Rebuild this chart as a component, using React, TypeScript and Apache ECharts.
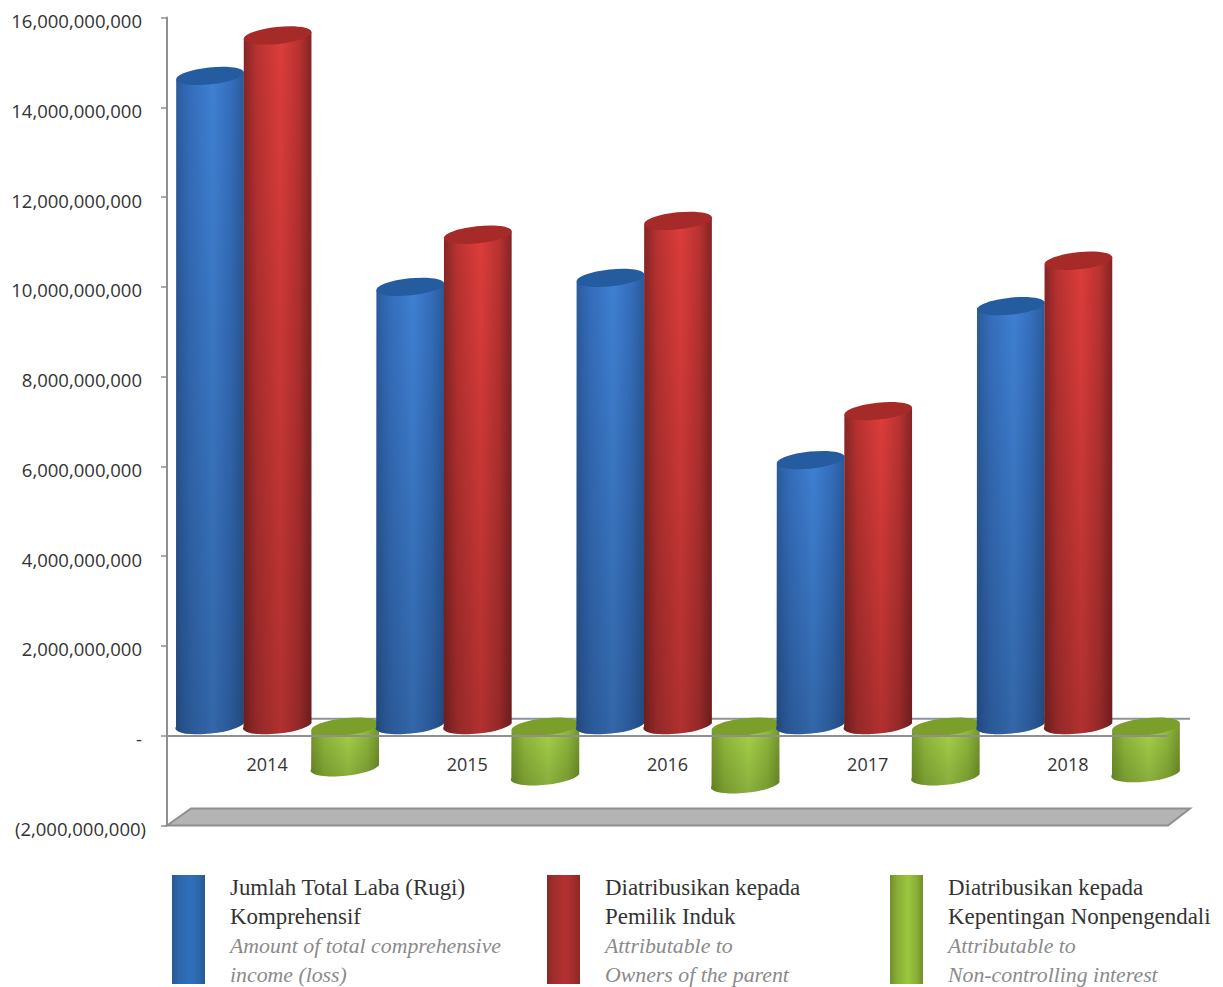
import React, { useEffect, useRef } from "react";
import * as echarts from "echarts";

const years = ["2014", "2015", "2016", "2017", "2018"];
const totalIncome = [14.5e9, 9.8e9, 10.0e9, 5.94e9, 9.37e9];
const ownersShare = [15.4e9, 10.96e9, 11.27e9, 7.03e9, 10.38e9];
const nonControlling = [-0.94e9, -1.14e9, -1.32e9, -1.14e9, -1.07e9];

const nameTotal = "Jumlah Total Laba (Rugi) Komprehensif";
const nameOwners = "Diatribusikan kepada Pemilik Induk";
const nameNci = "Diatribusikan kepada Kepentingan Nonpengendali";

const legendTotal = ["Jumlah Total Laba (Rugi)", "Komprehensif", "Amount of total comprehensive", "income (loss)"];
const legendOwners = ["Diatribusikan kepada", "Pemilik Induk", "Attributable to", "Owners of the parent"];
const legendNci = ["Diatribusikan kepada", "Kepentingan Nonpengendali", "Attributable to", "Non-controlling interest"];

const DEPTH = 9;
const TILT = -6;

const hGrad = (edge: string, near: string, mid: string) =>
  new echarts.graphic.LinearGradient(0, 0, 1, 0, [
    { offset: 0, color: edge },
    { offset: 0.2, color: near },
    { offset: 0.55, color: mid },
    { offset: 0.82, color: near },
    { offset: 1, color: edge },
  ]);

function cylinder(offsetFrac: number, edge: string, near: string, mid: string, cap: string, shade: number) {
  return (params: any, api: any) => {
    const i = api.value(0);
    const v = api.value(1);
    const band = api.size([1, 0])[0];
    const p0 = api.coord([i, 0]);
    const p1 = api.coord([i, v]);
    const cx = p0[0] + band * offsetFrac;
    const rx = band * 0.17;
    const ry = 8.5;
    const a = (TILT * Math.PI) / 180;
    const dx = rx * Math.cos(a);
    const dy = rx * Math.sin(a);
    const yBase = p0[1] - DEPTH;
    const yEnd = p1[1] - DEPTH;
    const yTop = Math.min(yBase, yEnd);
    const yBot = Math.max(yBase, yEnd);
    const d =
      `M ${cx - dx} ${yTop - dy} L ${cx + dx} ${yTop + dy} L ${cx + dx} ${yBot + dy} ` +
      `A ${rx} ${ry} ${TILT} 0 1 ${cx - dx} ${yBot - dy} Z`;
    return {
      type: "group",
      children: [
        { type: "path", shape: { pathData: d }, style: { fill: hGrad(edge, near, mid) } },
        {
          type: "path",
          shape: { pathData: d },
          style: {
            fill: new echarts.graphic.LinearGradient(0, 0, 0, 1, [
              { offset: 0, color: "rgba(0,0,0,0)" },
              { offset: 1, color: `rgba(0,0,0,${shade})` },
            ]),
          },
        },
        {
          type: "ellipse",
          x: cx,
          y: yTop,
          rotation: (-TILT * Math.PI) / 180,
          shape: { cx: 0, cy: 0, rx, ry },
          style: { fill: cap },
        },
      ],
    };
  };
}

function backdrop(params: any, api: any) {
  const cs = params.coordSys;
  const left = cs.x;
  const right = cs.x + cs.width;
  const bottom = cs.y + cs.height;
  const zeroY = api.coord([0, 0])[1];
  return {
    type: "group",
    children: [
      {
        type: "polygon",
        shape: {
          points: [
            [left, bottom],
            [left + 24, bottom - 17],
            [right + 22, bottom - 17],
            [right, bottom],
          ],
        },
        style: { fill: "#b4b4b4", stroke: "#8f8f8f", lineWidth: 2 },
      },
      {
        type: "line",
        shape: { x1: left + 24, y1: zeroY - 17, x2: right + 22, y2: zeroY - 17 },
        style: { stroke: "#8f939c", lineWidth: 2 },
      },
    ],
  };
}

const seriesData = (vals: number[]) => vals.map((v, i) => [i, v]);

function legendFor(name: string, lines: string[], left: number, grad: any) {
  return {
    left,
    top: 870,
    orient: "vertical" as const,
    itemWidth: 33,
    itemHeight: 109,
    selectedMode: false,
    icon: "rect",
    data: [{ name, itemStyle: { color: grad } }],
    formatter: () => `{a|${lines[0]}}\n{a|${lines[1]}}\n{b|${lines[2]}}\n{b|${lines[3]}}`,
    textStyle: {
      padding: [3, 0, 0, 0],
      rich: {
        a: { fontFamily: "Liberation Serif", fontSize: 22.9, color: "#333", lineHeight: 29.3, padding: [0, 0, 0, 20] },
        b: { fontFamily: "Liberation Serif", fontStyle: "italic", fontSize: 21.8, color: "#8a8a8a", lineHeight: 29.3, padding: [0, 0, 0, 20] },
      },
    },
  };
}

export default function App() {
  const ref = useRef<HTMLDivElement>(null);
  useEffect(() => {
    const chart = echarts.init(ref.current!, undefined, { renderer: "svg" });
    const custom = (name: string, data: number[], z: number, color: string, render: any) => ({
      name,
      type: "custom" as const,
      data: seriesData(data),
      encode: { x: 0, y: 1 },
      z,
      silent: true,
      clip: false,
      itemStyle: { color },
      renderItem: render,
    });
    chart.setOption({
      animation: false,
      backgroundColor: "#ffffff",
      grid: { left: 167, right: 55, top: 17.5, bottom: 161.5, containLabel: false },
      legend: [
        legendFor(nameTotal, legendTotal, 167, hGrad("#28588f", "#2c66aa", "#3070bb")),
        legendFor(nameOwners, legendOwners, 542, hGrad("#8a2727", "#a02c2b", "#b53130")),
        legendFor(nameNci, legendNci, 885, hGrad("#6f8f2b", "#88ad35", "#9ac63e")),
      ],
      xAxis: {
        type: "category",
        data: years,
        z: 3,
        axisTick: { show: false },
        axisLine: { onZero: true, lineStyle: { color: "#8f8f8f", width: 2 } },
        axisLabel: { fontFamily: "Open Sans", fontSize: 18, color: "#333", margin: -71 },
      },
      yAxis: {
        type: "value",
        min: -2000000000,
        max: 16000000000,
        interval: 2000000000,
        splitLine: { show: false },
        axisLine: { show: true, lineStyle: { color: "#8f8f8f", width: 2 } },
        axisTick: { show: true, length: 6, lineStyle: { color: "#8f8f8f", width: 1.5 } },
        axisLabel: {
          margin: 21,
          fontFamily: "Open Sans",
          fontSize: 18.5,
          color: "#333",
          formatter: (v: number) => {
            if (v === 0) return "{n|-}";
            const s = Math.abs(v).toLocaleString("en-US");
            return v < 0 ? `{p|(${s})}` : `{n|${s}}`;
          },
          rich: {
            n: { fontFamily: "Open Sans", fontSize: 18.5, color: "#333", padding: [6, 4, 0, 0] },
            p: { fontFamily: "Open Sans", fontSize: 18.5, color: "#333", padding: [6, 0, 0, 0] },
          },
        },
      },
      series: [
        {
          type: "custom",
          data: [[0, 0]],
          encode: { x: 0, y: 1 },
          z: 1,
          silent: true,
          clip: false,
          renderItem: backdrop,
        },
        custom(nameTotal, totalIncome, 4, "#3070bb", cylinder(-0.285, "#2a5a9a", "#346dbb", "#3f80d2", "#245c9f", 0.2)),
        custom(nameOwners, ownersShare, 5, "#b53130", cylinder(0.0525, "#842424", "#b83231", "#dc3d3b", "#a62a28", 0.2)),
        custom(nameNci, nonControlling, 2, "#9ac63e", cylinder(0.39, "#76992c", "#92bb3b", "#a8d44a", "#7c9f2b", 0.18)),
      ],
    });
    return () => chart.dispose();
  }, []);
  return (
    <div
      ref={ref}
      style={{ position: "absolute", left: 0, top: 0, width: 1223, height: 987 }}
    />
  );
}
